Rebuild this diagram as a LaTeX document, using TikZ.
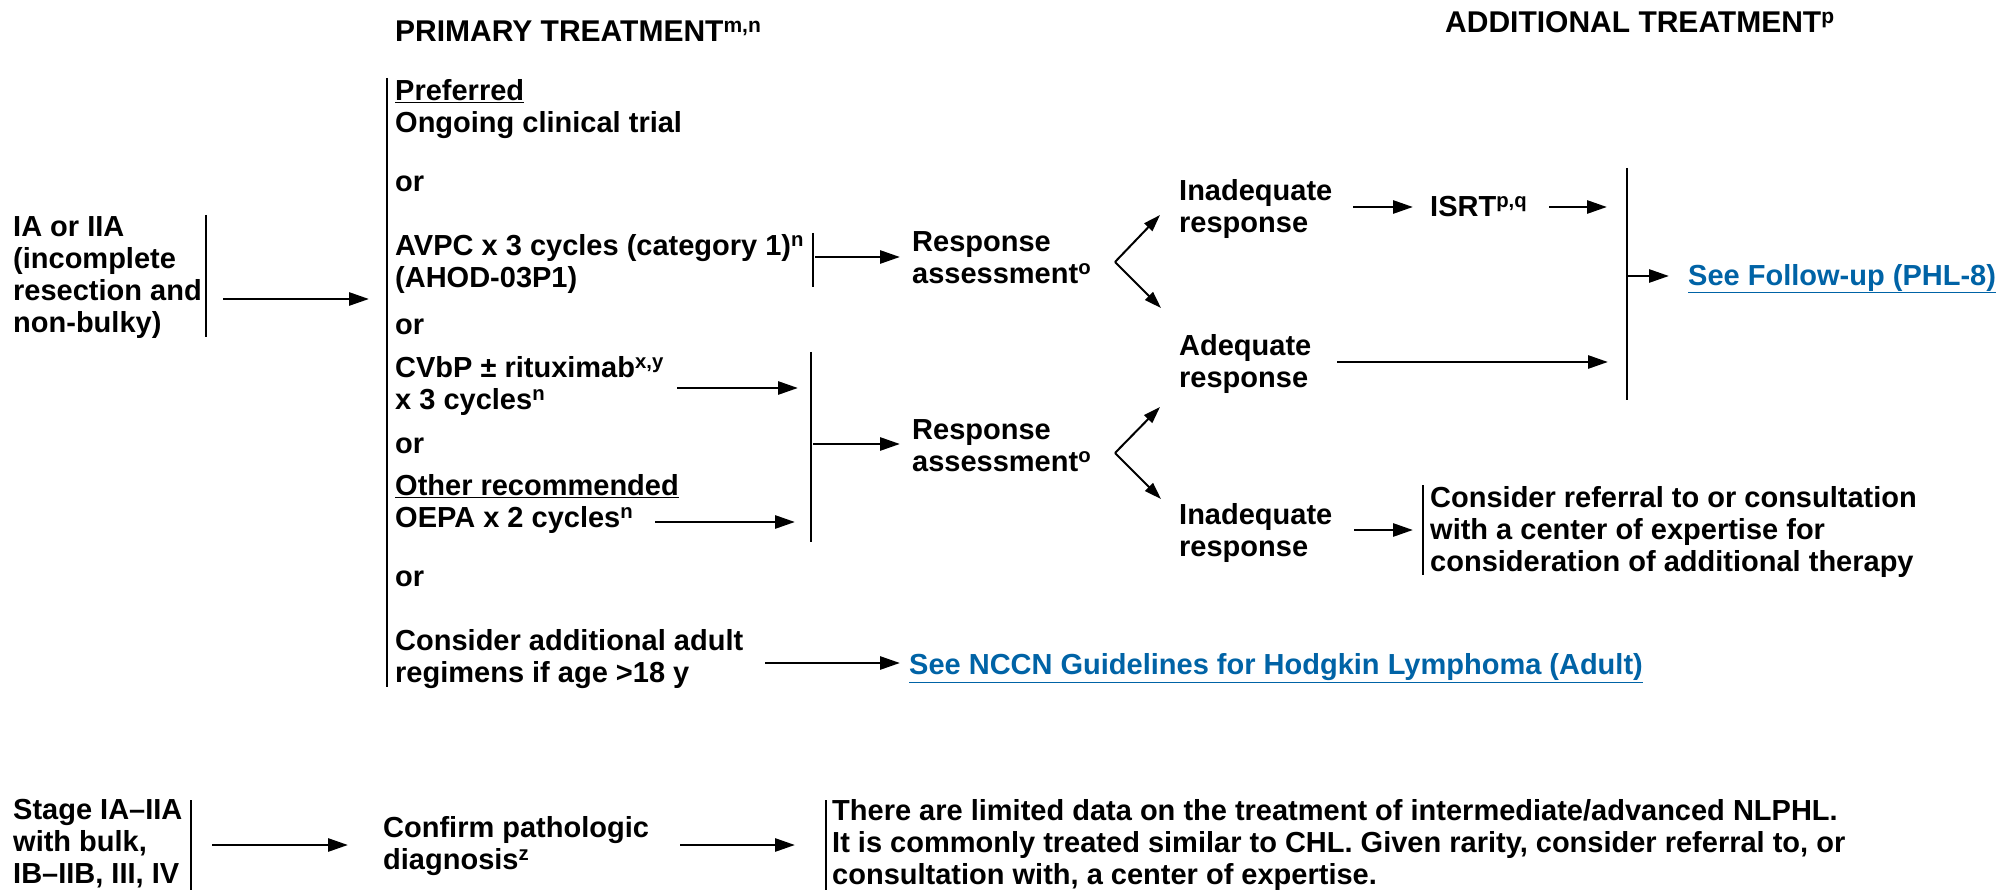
\documentclass[tikz,border=0pt]{standalone}
\usepackage{fontspec}
\setmainfont{Liberation Sans}
\usetikzlibrary{arrows.meta}
\definecolor{linkblue}{RGB}{0,99,166}
\newcommand{\sups}[1]{\textsuperscript{#1}}
\begin{document}
\begin{tikzpicture}[x=1pt,y=-1pt,
  font=\fontsize{29}{32}\selectfont\bfseries,
  tx/.style={anchor=north west,inner sep=0pt,align=left,execute at begin node={\rule{0pt}{23pt}}},
  hd/.style={tx,font=\fontsize{30}{32}\selectfont\bfseries},
  lnk/.style={tx,text=linkblue},
  brk/.style={line width=2pt},
  arr/.style={line width=2.8pt,-{Triangle[length=20pt,width=13pt]}},
  chev/.style={line width=2pt,-{Triangle[length=17pt,width=11pt]}}]
\fill[white] (0,0) rectangle (2003,890);
\useasboundingbox (0,0) rectangle (2003,890);

% headings
\node[hd] (hp) at (395,18) {PRIMARY TREATMENT\sups{m,n}};
\node[hd] (ha) at (1445,9) {ADDITIONAL TREATMENT\sups{p}};

% left group
\node[tx] (n1) at (13,216) {IA or IIA\\(incomplete\\resection and\\non-bulky)};
\node[tx] (pref) at (395,79) {\underline{Preferred}\\Ongoing clinical trial};
\node[tx] (or1) at (395,168) {or};
\node[tx] (avpc) at (395,234) {AVPC x 3 cycles (category 1)\sups{n}\\(AHOD-03P1)};
\node[tx] (or2) at (395,311) {or};
\node[tx] (cvbp) at (395,356) {CVbP ± rituximab\sups{x,y}\\x 3 cycles\sups{n}};
\node[tx] (or3) at (395,430) {or};
\node[tx] (other) at (395,474) {\underline{Other recommended}\\OEPA x 2 cycles\sups{n}};
\node[tx] (or4) at (395,563) {or};
\node[tx] (cons) at (395,629) {Consider additional adult\\regimens if age >18 y};

\node[tx] (ra1) at (912,231) {Response\\assessment\sups{o}};
\node[tx] (inad1) at (1179,179) {Inadequate\\response};
\node[tx] (isrt) at (1430,193) {ISRT\sups{p,q}};
\node[lnk] (fu) at (1688,262) {\underline{See Follow-up (PHL-8)}};
\node[tx] (adeq) at (1179,334) {Adequate\\response};

\node[tx] (ra2) at (912,419) {Response\\assessment\sups{o}};
\node[tx] (inad2) at (1179,503) {Inadequate\\response};
\node[tx] (cref) at (1430,486) {Consider referral to or consultation\\with a center of expertise for\\consideration of additional therapy};
\node[lnk] (nccn) at (909,651) {\underline{See NCCN Guidelines for Hodgkin Lymphoma (Adult)}};

% bottom group
\node[tx] (stage) at (13,799) {Stage IA–IIA\\with bulk,\\IB–IIB, III, IV};
\node[tx] (confirm) at (383,816) {Confirm pathologic\\diagnosis\sups{z}};
\node[tx] (limited) at (832,799) {There are limited data on the treatment of intermediate/advanced NLPHL.\\It is commonly treated similar to CHL. Given rarity, consider referral to, or\\consultation with, a center of expertise.};

% brackets
\coordinate (b1t) at (206,215); \coordinate (b1b) at (206,337);
\coordinate (bmt) at (387,78);  \coordinate (bmb) at (387,687);
\coordinate (bat) at (813,233); \coordinate (bab) at (813,287);
\coordinate (bct) at (811,352); \coordinate (bcb) at (811,542);
\coordinate (brt) at (1627,168); \coordinate (brb) at (1627,400);
\coordinate (bit) at (1423,485); \coordinate (bib) at (1423,575);
\coordinate (bst) at (191,800); \coordinate (bsb) at (191,890);
\coordinate (blt) at (826,800); \coordinate (blb) at (826,890);
\foreach \a/\b in {b1t/b1b,bmt/bmb,bat/bab,bct/bcb,brt/brb,bit/bib,bst/bsb,blt/blb}
  \draw[brk] (\a) -- (\b);

% arrow end points
\coordinate (a1s) at (223,299);  \coordinate (a1e) at (369,299);
\coordinate (a2s) at (815,257);  \coordinate (a2e) at (900,257);
\coordinate (a3s) at (677,388);  \coordinate (a3e) at (798,388);
\coordinate (a4s) at (655,522);  \coordinate (a4e) at (795,522);
\coordinate (a5s) at (813,444);  \coordinate (a5e) at (900,444);
\coordinate (a6s) at (1353,207); \coordinate (a6e) at (1413,207);
\coordinate (a7s) at (1549,207); \coordinate (a7e) at (1607,207);
\coordinate (a8s) at (1337,362); \coordinate (a8e) at (1608,362);
\coordinate (a9s) at (1627,276); \coordinate (a9e) at (1669,276);
\coordinate (a10s) at (1354,530); \coordinate (a10e) at (1413,530);
\coordinate (a11s) at (765,663); \coordinate (a11e) at (900,663);
\coordinate (a12s) at (212,845); \coordinate (a12e) at (348,845);
\coordinate (a13s) at (680,845); \coordinate (a13e) at (795,845);
\foreach \i in {1,...,13}
  \draw[arr] (a\i s) -- (a\i e);

% chevrons
\coordinate (v1) at (1115,262); \coordinate (t1a) at (1160,215); \coordinate (t1b) at (1161,308);
\coordinate (v2) at (1115,453); \coordinate (t2a) at (1160,407); \coordinate (t2b) at (1161,499);
\draw[chev] (v1) -- (t1a);
\draw[chev] (v1) -- (t1b);
\draw[chev] (v2) -- (t2a);
\draw[chev] (v2) -- (t2b);
\end{tikzpicture}
\end{document}
